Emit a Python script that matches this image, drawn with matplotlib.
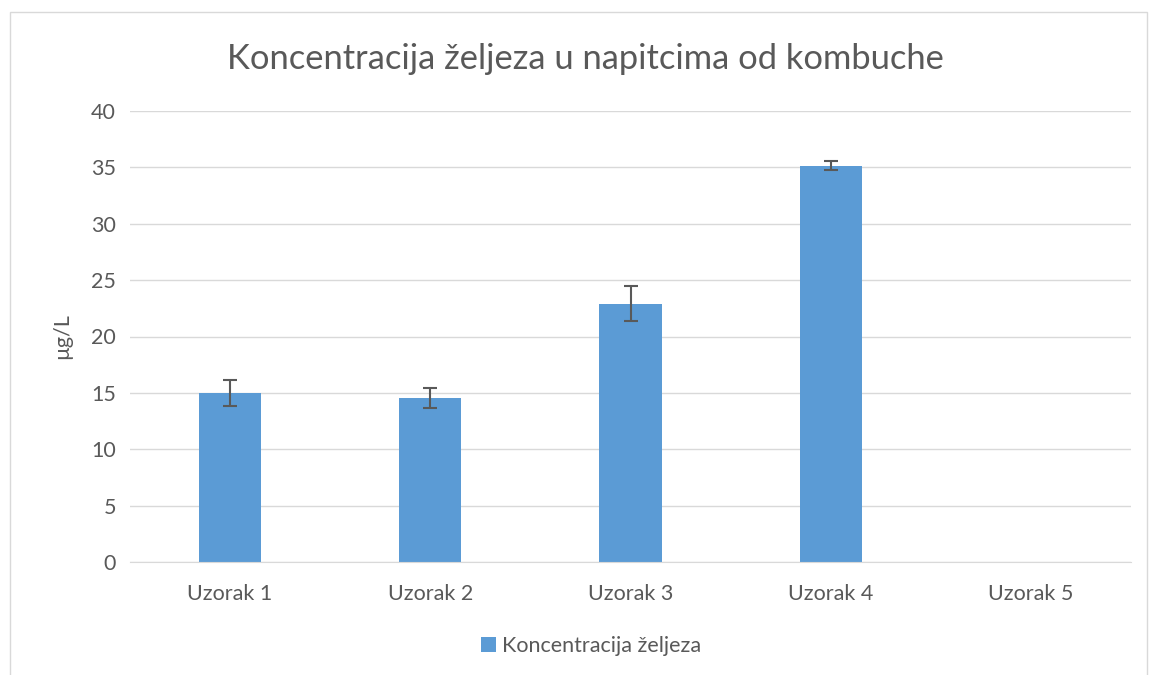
import matplotlib.pyplot as plt
from matplotlib.patches import Rectangle

plt.rcParams['font.family'] = ['Lato', 'DejaVu Sans']

uzorci = ['Uzorak 1', 'Uzorak 2', 'Uzorak 3', 'Uzorak 4', 'Uzorak 5']
koncentracija = [14.95, 14.55, 22.9, 35.15, 0]
greska = [1.15, 0.85, 1.55, 0.4, 0]

fig = plt.figure(figsize=(11.51, 6.75), dpi=100)
ax = fig.add_axes([130/1151, 1-562/675, 1001/1151, 451/675])

x = range(len(uzorci))
ax.bar(x, koncentracija, width=0.31, color='#5b9bd5', label='Koncentracija željeza', zorder=2)
ax.errorbar(list(x)[:4], koncentracija[:4], yerr=greska[:4], fmt='none', ecolor='#595959',
            elinewidth=1.5, capsize=5, capthick=1.5, zorder=3)

ax.set_xlim(-0.5, 4.5)
ax.set_ylim(0, 40)
ax.set_yticks(range(0, 41, 5))
ax.set_xticks(list(x))
ax.set_xticklabels(uzorci)
ax.grid(axis='y', color='#d9d9d9', linewidth=1, zorder=0)
for s in ['top', 'right', 'left']:
    ax.spines[s].set_visible(False)
ax.spines['bottom'].set_color('#d9d9d9')
ax.tick_params(axis='both', length=0, labelsize=15.5, colors='#595959', pad=10)
ax.tick_params(axis='x', pad=16)
ax.set_ylabel('µg/L', fontsize=15.5, color='#595959', labelpad=14)

fig.text(585/1151, 1-59/675, 'Koncentracija željeza u napitcima od kombuche',
         ha='center', va='center', fontsize=24.8, color='#595959')

fig.legend(*ax.get_legend_handles_labels(), loc='center',
           bbox_to_anchor=(591/1151, 1-646/675), frameon=False,
           fontsize=15.5, labelcolor='#595959', handlelength=0.7, handleheight=0.7,
           handletextpad=0.3)

fig.patches.append(Rectangle((10/1151, -0.1), 1137/1151, 1.1 - 12/675, transform=fig.transFigure,
                             fill=False, edgecolor='#d9d9d9', linewidth=1))

fig.savefig('out.png', dpi=100)
